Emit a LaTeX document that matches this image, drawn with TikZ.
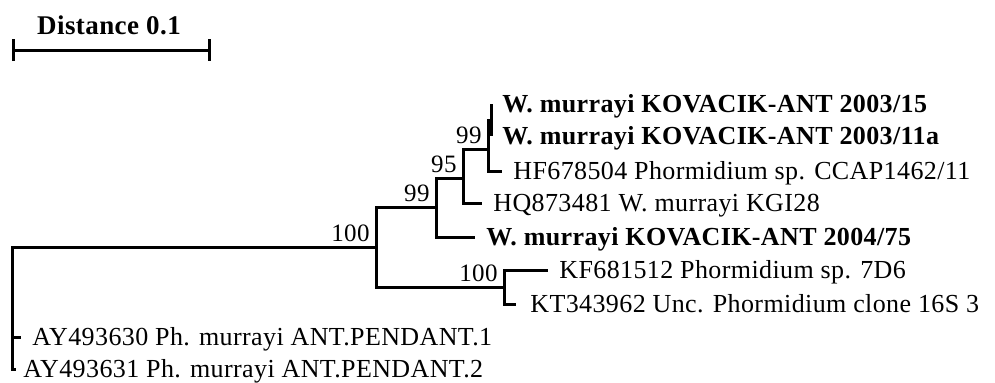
\documentclass[tikz,border=0pt]{standalone}
\usepackage{fontspec}
\setmainfont{Liberation Serif}[LetterSpace=1.5]
\usetikzlibrary{arrows.meta}

\begin{document}
\begin{tikzpicture}[x=0.5pt,y=-0.5pt,
  branch/.style={line width=1.5pt},
  leaf/.style={anchor=base west,inner sep=0pt,xshift=5.5pt,yshift=-4.3pt,font=\fontsize{13}{15}\selectfont},
  strain/.style={leaf,font=\fontsize{13}{15}\selectfont\bfseries},
  boot/.style={anchor=south east,inner sep=0pt,xshift=-3pt,yshift=2.5pt,font=\fontsize{12.5}{14}\selectfont}]
  \useasboundingbox (0,0) rectangle (995,382);
  \coordinate (sbl) at (12,50);
  \coordinate (sbr) at (211,50);
  \draw[branch,{Bar[width=11pt]}-{Bar[width=11pt]}] (sbl) -- (sbr);
  \node[font=\fontsize{13.5}{15}\selectfont\bfseries] (dist) at (109,25) {Distance 0.1};
  \coordinate (rt) at (12,300);
  \coordinate (na) at (376,247);
  \coordinate (nb) at (436,207);
  \coordinate (nc) at (463,178);
  \coordinate (nd) at (488,149);
  \coordinate (ne) at (491,120);
  \coordinate (nf) at (504,287);
  \coordinate (t1) at (491,104);
  \coordinate (t2) at (491,136);
  \coordinate (t3) at (502,171);
  \coordinate (t4) at (482,203);
  \coordinate (t5) at (475,237);
  \coordinate (t6) at (548,270);
  \coordinate (t7) at (516,304);
  \coordinate (t8) at (21,337);
  \coordinate (t9) at (16,369);
  \draw[branch] (rt) |- (na) (rt) |- (t8) (rt) |- (t9);
  \draw[branch] (na) |- (nb) (na) |- (nf);
  \draw[branch] (nb) |- (nc) (nb) |- (t5);
  \draw[branch] (nc) |- (nd) (nc) |- (t4);
  \draw[branch] (nd) |- (ne) (nd) |- (t3);
  \draw[branch] (ne) |- (t1) (ne) |- (t2);
  \draw[branch] (nf) |- (t6) (nf) |- (t7);
  \node[strain] (l1) at (t1) {W. murrayi KOVACIK-ANT 2003/15};
  \node[strain] (l2) at (t2) {W. murrayi KOVACIK-ANT 2003/11a};
  \node[leaf] (l3) at (t3) {HF678504 Phormidium sp. CCAP1462/11};
  \node[leaf] (l4) at (t4) {HQ873481 W. murrayi KGI28};
  \node[strain] (l5) at (t5) {W. murrayi KOVACIK-ANT 2004/75};
  \node[leaf] (l6) at (t6) {KF681512 Phormidium sp. 7D6};
  \node[leaf,xshift=1.5pt] (l7) at (t7) {KT343962 Unc. Phormidium clone 16S 3};
  \node[leaf] (l8) at (t8) {AY493630 Ph. murrayi ANT.PENDANT.1};
  \node[leaf,xshift=-2pt] (l9) at (t9) {AY493631 Ph. murrayi ANT.PENDANT.2};
  \node[boot] (bs1) at (na) {100};
  \node[boot] (bs2) at (nb) {99};
  \node[boot] (bs3) at (nc) {95};
  \node[boot] (bs4) at (nd) {99};
  \node[boot] (bs5) at (nf) {100};
\end{tikzpicture}
\end{document}
